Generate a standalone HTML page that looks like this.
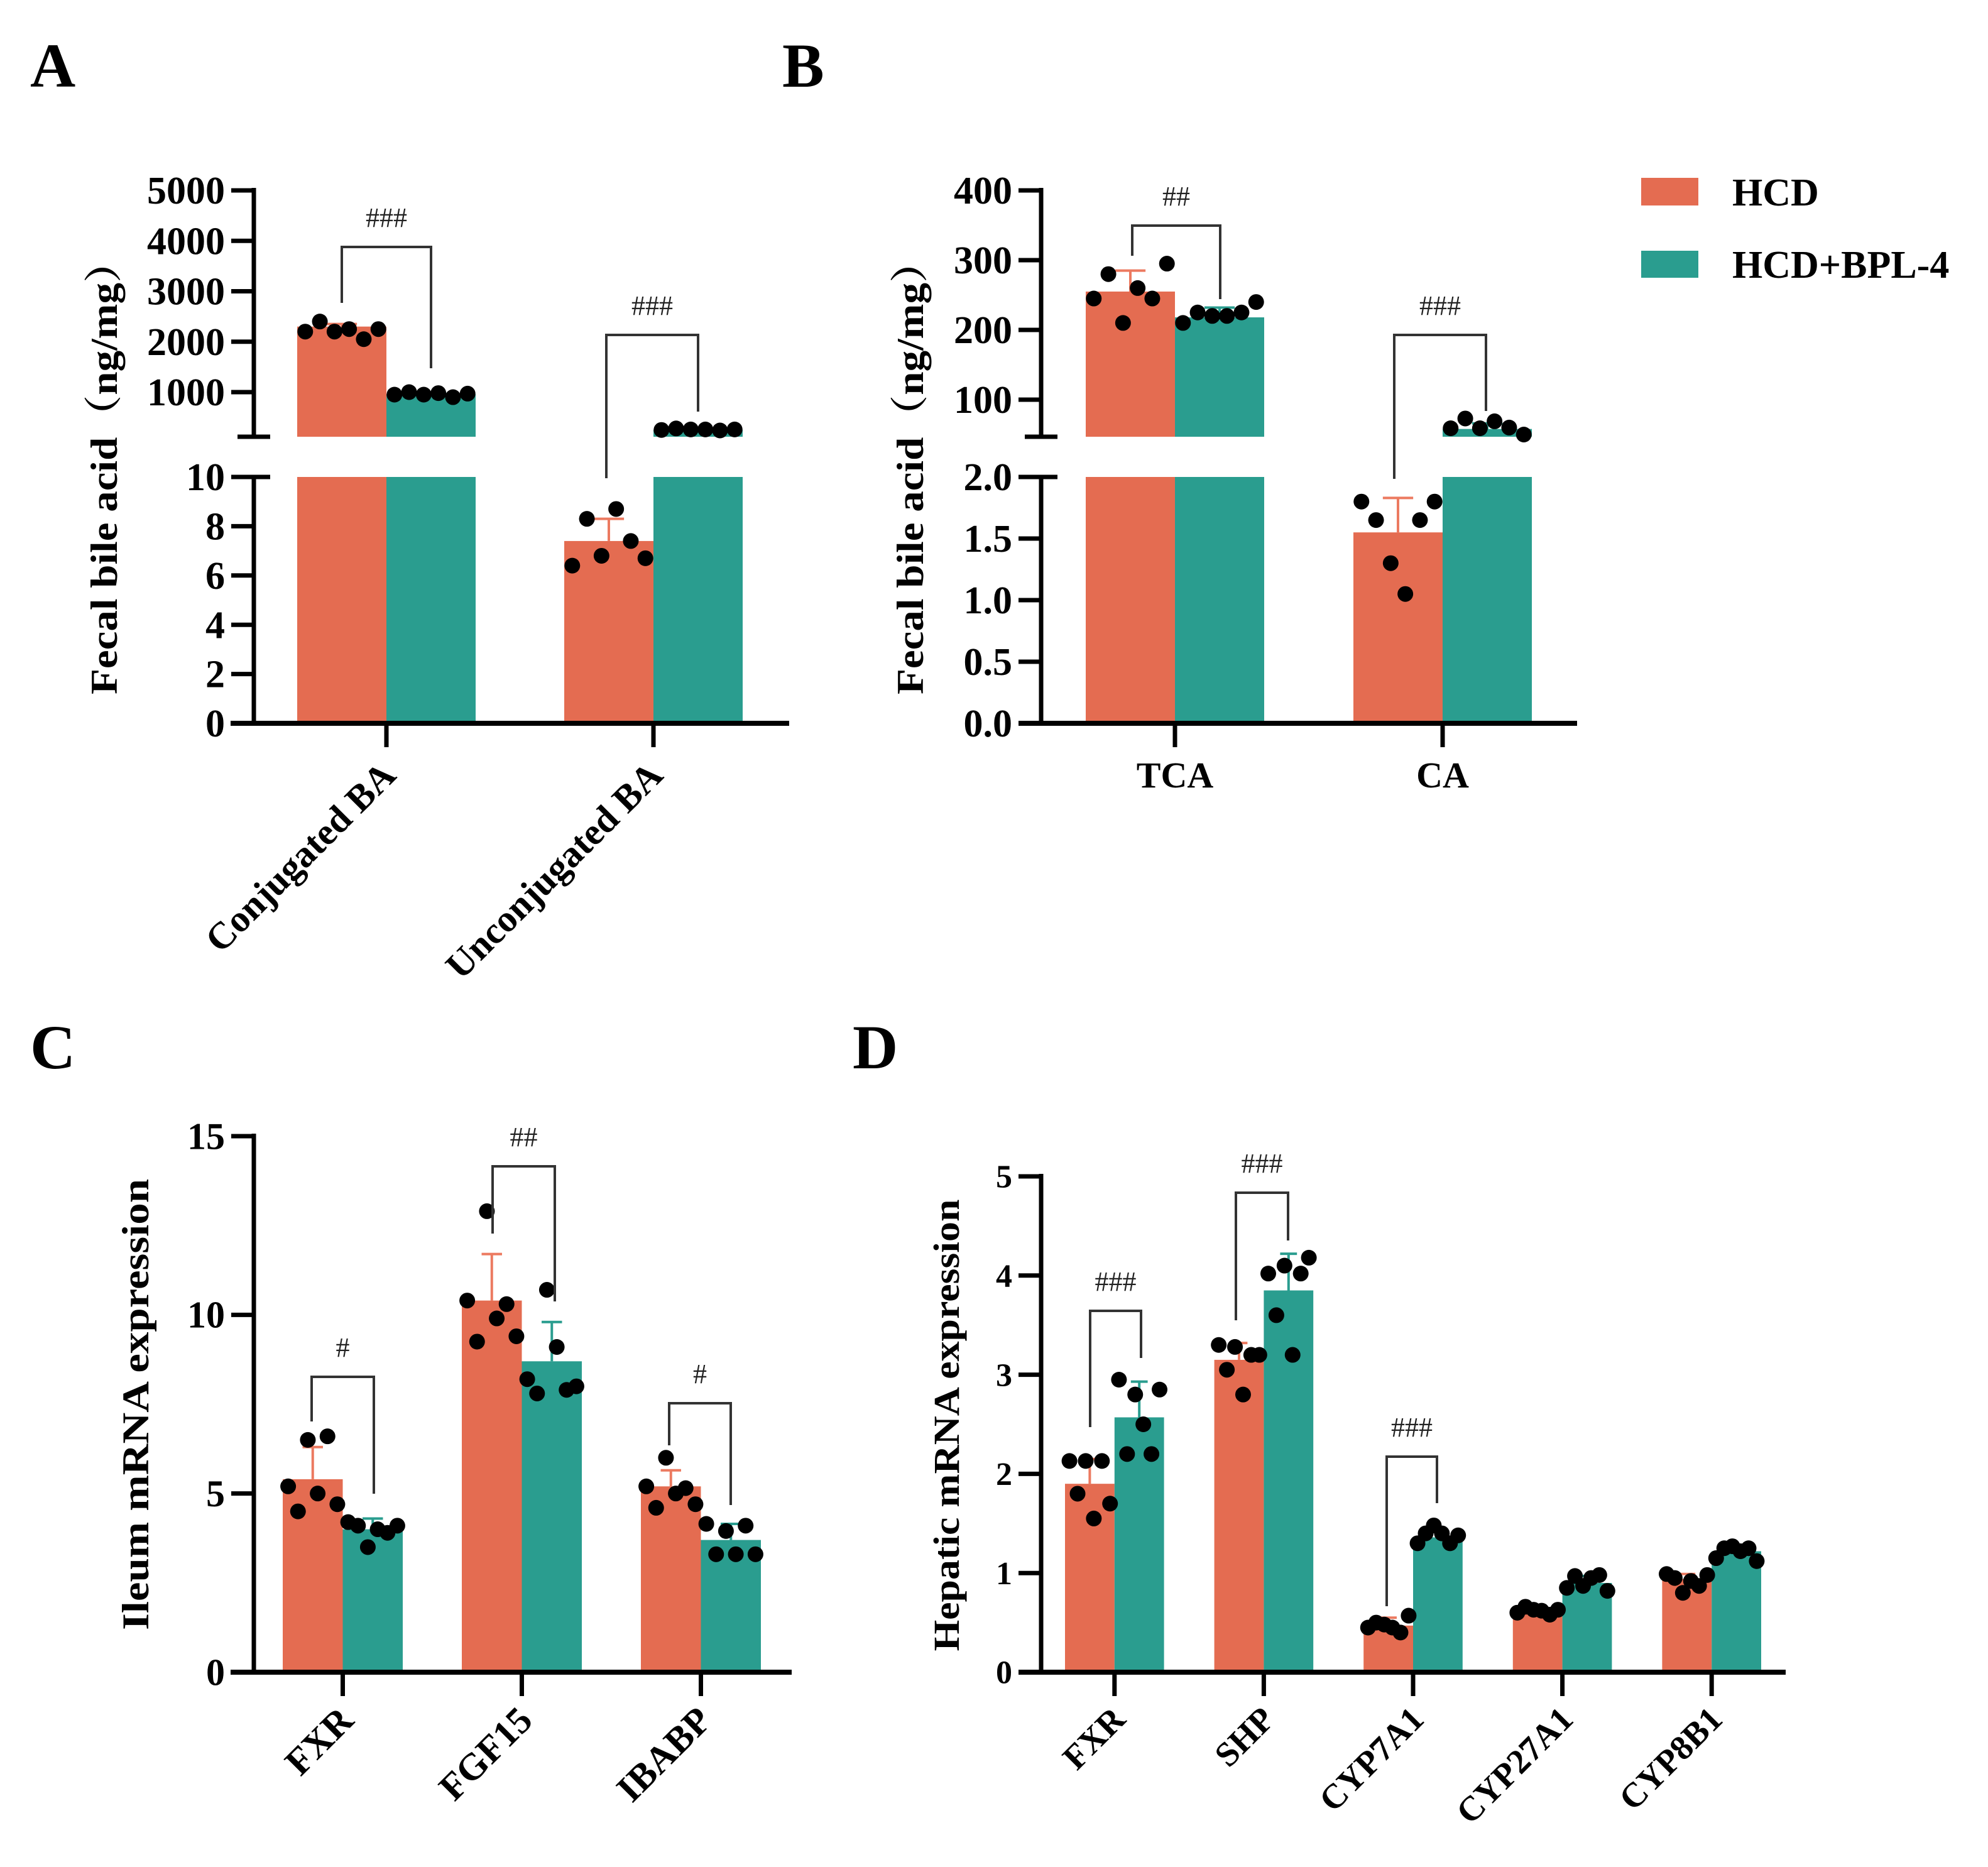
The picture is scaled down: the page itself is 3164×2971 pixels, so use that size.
<!DOCTYPE html>
<html><head><meta charset="utf-8">
<style>
html,body{margin:0;padding:0;background:#fff;}
svg{display:block;}
text{font-family:"Liberation Serif","Noto Serif CJK SC",serif;}
</style></head>
<body>
<svg id="fig" xmlns="http://www.w3.org/2000/svg" width="3164" height="2971" viewBox="0 0 3164 2971"></svg>
<script>
// ---------- Data ----------
const catsA = ["Conjugated BA","Unconjugated BA"];
const hcdA = [2300, 7.4];
const hcdAerr = [2350, 8.3];
const bplA = [960, 255];
const bplAerr = [980, 270];
const hcdAPts = [[2200,2400,2200,2250,2050,2250],[6.4,8.3,6.8,8.7,7.4,6.7]];
const bplAPts = [[950,1000,950,980,900,970],[250,280,260,260,240,260]];

const catsB = ["TCA","CA"];
const hcdB = [255, 1.55];
const hcdBerr = [285, 1.83];
const bplB = [218, 58];
const bplBerr = [232, 66];
const hcdBPts = [[245,280,210,260,245,295],[1.8,1.65,1.3,1.05,1.65,1.8]];
const bplBPts = [[210,225,220,220,225,240],[59,73,59,69,60,50]];

const catsC = ["FXR","FGF15","IBABP"];
const hcdC = [5.4, 10.4, 5.2];
const hcdCerr = [6.3, 11.7, 5.65];
const bplC = [4.0, 8.7, 3.7];
const bplCerr = [4.3, 9.8, 4.15];
const hcdCPts = [[5.2,4.5,6.5,5.0,6.6,4.7],[10.4,9.25,12.9,9.9,10.3,9.4],[5.2,4.6,6.0,5.0,5.15,4.7]];
const bplCPts = [[4.2,4.1,3.5,4.0,3.9,4.1],[8.2,7.8,10.7,9.1,7.9,8.0],[4.15,3.3,3.95,3.3,4.1,3.3]];

const catsD = ["FXR","SHP","CYP7A1","CYP27A1","CYP8B1"];
const hcdD = [1.9, 3.15, 0.47, 0.61, 0.94];
const hcdDerr = [2.15, 3.32, 0.55, 0.66, 0.99];
const bplD = [2.57, 3.85, 1.36, 0.9, 1.22];
const bplDerr = [2.93, 4.22, 1.45, 0.97, 1.27];
const hcdDPts = [[2.13,1.8,2.13,1.55,2.13,1.7],[3.3,3.05,3.28,2.8,3.2,3.2],[0.45,0.5,0.48,0.45,0.4,0.57],[0.6,0.66,0.63,0.62,0.58,0.63],[0.99,0.95,0.8,0.92,0.87,0.98]];
const bplDPts = [[2.95,2.2,2.8,2.5,2.2,2.85],[4.02,3.6,4.1,3.2,4.02,4.18],[1.3,1.4,1.48,1.4,1.3,1.38],[0.85,0.97,0.87,0.95,0.98,0.82],[1.15,1.25,1.27,1.22,1.25,1.12]];

const ticksAUp = [1000,2000,3000,4000,5000];
const ticksALow = [0,2,4,6,8,10];
const ticksBUp = [100,200,300,400];
const ticksBLow = [0,0.5,1.0,1.5,2.0];
const ticksC = [0,5,10,15];
const ticksD = [0,1,2,3,4,5];

const C_HCD = "#E46C51", C_BPL = "#2A9D8F", C_ERRH = "#EC7A60", C_ERRB = "#2A9D8F";
const NS = "http://www.w3.org/2000/svg";
const svg = document.getElementById('fig');
function mk(tag, attrs, parent){
  const e = document.createElementNS(NS, tag);
  for (const k in attrs) e.setAttribute(k, attrs[k]);
  (parent||svg).appendChild(e);
  return e;
}
function txt(s, attrs, parent){ const t = mk('text', attrs, parent); t.textContent = s; return t; }

function brokenY(up, low){
  return {up:v=>up.y0+(v-up.v0)*(up.y1-up.y0)/(up.v1-up.v0), low:v=>low.y0+(v-low.v0)*(low.y1-low.y0)/(low.v1-low.v0), upBottom:up.bottomY, lowTop:low.topY, lowMax:low.vmax};
}
const sA = brokenY({v0:1000,y0:624,v1:5000,y1:303,bottomY:695},{v0:0,y0:1151,v1:10,y1:759,topY:759,vmax:10});
const sB = brokenY({v0:100,y0:636,v1:400,y1:303,bottomY:695},{v0:0,y0:1151,v1:2,y1:759,topY:759,vmax:2});
const yC = v=>2661 - v*(853/15);
const yD = v=>2661 - v*157.8;
function yBroken(s, v){ return v <= s.lowMax ? s.low(v) : s.up(v); }

function group(name){ const g = mk('g',{});   return g; }

function drawBar(g, x, w, v, color, yfn, base, s, name){
  if (s && v > s.lowMax){
    const r1 = mk('rect',{x:x,y:s.lowTop,width:w,height:base-s.lowTop,fill:color},g);
    
    
    const yt = s.up(v);
    const r2 = mk('rect',{x:x,y:yt,width:w,height:s.upBottom-yt,fill:color},g);
    
    
  } else {
    const yt = yfn(v);
    const r = mk('rect',{x:x,y:yt,width:w,height:base-yt,fill:color},g);
    
    
  }
}
function drawErr(g, cx, w, v, e, color, yfn, name){
  const y1 = yfn(v), y2 = yfn(e);
  const l = mk('path',{d:`M${cx},${y1}V${y2}M${cx-w*0.17},${y2}H${cx+w*0.17}`,stroke:color,'stroke-width':4,fill:'none'},g);
  
  
}
function drawPts(g, x, w, pts, yfn, r, name){
  pts.forEach((p,i)=>{
    const cx = x + w*(0.09 + 0.82*i/(pts.length-1));
    const c = mk('circle',{cx:cx,cy:yfn(p),r:r,fill:'#000'},g);
    
    
  });
}
function bracket(g, x1, x2, top, yl, yr, label, fs){
  const p = mk('path',{d:`M${x1},${yl}V${top}H${x2}V${yr}`,stroke:'#333','stroke-width':4,fill:'none'},g);
  
  
  const t = txt(label,{x:(x1+x2)/2,y:top-32,'font-size':fs||44,'text-anchor':'middle',fill:'#222'},g);
  
  
}
function yTicks(g, axX, ticks, yfn, fs, fmt, ext){
  ticks.forEach(v=>{
    const y = yfn(v);
    const l = mk('line',{x1:axX-36,x2:axX+(ext?36:0),y1:y,y2:y,stroke:'#000','stroke-width':7},g);
    
    
    const t = txt(fmt?fmt(v):String(v),{x:axX-46,y:y+fs*0.34,'font-size':fs,'font-weight':'bold','text-anchor':'end'},g);
    
    
  });
}
function xAxis(g, x1, x2, y){
  const l = mk('line',{x1:x1,x2:x2,y1:y,y2:y,stroke:'#000','stroke-width':8},g);
  
  
}
function xTick(g, x, y){
  const l = mk('line',{x1:x,x2:x,y1:y,y2:y+38,stroke:'#000','stroke-width':7},g);
  
  
}
function rotLabel(g, s, x, y, fs){
  const t = txt(s,{x:x,y:y,'font-size':fs,'font-weight':'bold','text-anchor':'end',transform:`rotate(-45 ${x} ${y})`},g);
  
  
}
function yTitle(g, s, x, y, fs, len){
  const t = txt(s,{x:x,y:y,'font-size':fs,'font-weight':'bold','text-anchor':'middle',transform:`rotate(-90 ${x} ${y})`,textLength:len,lengthAdjust:'spacingAndGlyphs'},g);
  
  
}
function panelLetter(s, x, y){
  const t = txt(s,{x:x,y:y,'font-size':100,'font-weight':'bold'});
  
  
}

// ---------- Panel A ----------
(function(){
  const g = group('panel-a-chart');
  const axX = 404, base = 1151;
  const starts = [473, 898], bw = 142;
  catsA.forEach((c,i)=>{
    const x0 = starts[i];
    const f1 = v=>yBroken(sA,v);
    drawBar(g, x0, bw, hcdA[i], C_HCD, f1, base, sA, 'bar-hcd-'+i);
    drawBar(g, x0+bw, bw, bplA[i], C_BPL, f1, base, sA, 'bar-bpl-'+i);
    drawErr(g, x0+bw/2, bw, hcdA[i], hcdAerr[i], C_ERRH, f1, 'error-bar-hcd');
    drawErr(g, x0+bw*1.5, bw, bplA[i], bplAerr[i], C_ERRB, f1, 'error-bar-bpl');
    drawPts(g, x0, bw, hcdAPts[i], f1, 12.5, 'point-hcd');
    drawPts(g, x0+bw, bw, bplAPts[i], f1, 12.5, 'point-bpl');
    xTick(g, x0+bw, base);
    rotLabel(g, c, x0+bw+18, base+86, 60);
  });
  mk('line',{x1:axX,x2:axX,y1:299,y2:695,stroke:'#000','stroke-width':7},g);
  mk('line',{x1:axX,x2:axX,y1:759,y2:base,stroke:'#000','stroke-width':7},g);
  mk('line',{x1:axX-26,x2:axX+26,y1:695,y2:695,stroke:'#000','stroke-width':7},g);
  xAxis(g, 367, 1256, base);
  yTicks(g, axX, ticksAUp, v=>sA.up(v), 62);
  yTicks(g, axX, ticksALow, v=>sA.low(v), 62, null, false);
  mk('line',{x1:axX,x2:axX+26,y1:759,y2:759,stroke:'#000','stroke-width':7},g);
  bracket(g, 544, 686, 393, 482, 586, '###');
  bracket(g, 965, 1111, 533, 761, 655, '###');
  yTitle(g, 'Fecal bile acid（ng/mg）', 186, 744, 60, 722);
})();
panelLetter('A', 48, 138);

// ---------- Panel B ----------
(function(){
  const g = group('panel-b-chart');
  const axX = 1657, base = 1151;
  const starts = [1728, 2154], bw = 142;
  catsB.forEach((c,i)=>{
    const x0 = starts[i];
    const f1 = v=>yBroken(sB,v);
    drawBar(g, x0, bw, hcdB[i], C_HCD, f1, base, sB, 'bar-hcd-'+i);
    drawBar(g, x0+bw, bw, bplB[i], C_BPL, f1, base, sB, 'bar-bpl-'+i);
    drawErr(g, x0+bw/2, bw, hcdB[i], hcdBerr[i], C_ERRH, f1, 'error-bar-hcd');
    drawErr(g, x0+bw*1.5, bw, bplB[i], bplBerr[i], C_ERRB, f1, 'error-bar-bpl');
    drawPts(g, x0, bw, hcdBPts[i], f1, 12.5, 'point-hcd');
    drawPts(g, x0+bw, bw, bplBPts[i], f1, 12.5, 'point-bpl');
    xTick(g, x0+bw, base);
    const t = txt(c,{x:x0+bw,y:1253,'font-size':58,'font-weight':'bold','text-anchor':'middle'},g);
    
    
  });
  mk('line',{x1:axX,x2:axX,y1:299,y2:695,stroke:'#000','stroke-width':7},g);
  mk('line',{x1:axX,x2:axX,y1:759,y2:base,stroke:'#000','stroke-width':7},g);
  mk('line',{x1:axX-26,x2:axX+26,y1:695,y2:695,stroke:'#000','stroke-width':7},g);
  mk('line',{x1:axX,x2:axX+26,y1:759,y2:759,stroke:'#000','stroke-width':7},g);
  xAxis(g, 1621, 2510, base);
  yTicks(g, axX, ticksBUp, v=>sB.up(v), 62);
  yTicks(g, axX, ticksBLow, v=>sB.low(v), 62, v=>v.toFixed(1));
  bracket(g, 1802, 1942, 359, 407, 476, '##');
  bracket(g, 2219, 2365, 533, 762, 654, '###');
  yTitle(g, 'Fecal bile acid（ng/mg）', 1469, 744, 60, 722);
})();
panelLetter('B', 1245, 138);

// Legend
(function(){
  const g = group('legend');
  const r1 = mk('rect',{x:2612,y:283,width:91,height:44,fill:C_HCD},g);
   
  const t1 = txt('HCD',{x:2757,y:327,'font-size':62,'font-weight':'bold'},g);
   
  const r2 = mk('rect',{x:2612,y:399,width:91,height:43,fill:C_BPL},g);
   
  const t2 = txt('HCD+BPL-4',{x:2757,y:442,'font-size':62,'font-weight':'bold'},g);
   
})();

// ---------- Panel C ----------
(function(){
  const g = group('panel-c-chart');
  const axX = 404, base = 2661;
  const starts = [450, 735, 1020], bw = 95.5;
  catsC.forEach((c,i)=>{
    const x0 = starts[i];
    drawBar(g, x0, bw, hcdC[i], C_HCD, yC, base, null, 'bar-hcd-'+c);
    drawBar(g, x0+bw, bw, bplC[i], C_BPL, yC, base, null, 'bar-bpl-'+c);
    drawErr(g, x0+bw/2, bw, hcdC[i], hcdCerr[i], C_ERRH, yC, 'error-bar-hcd');
    drawErr(g, x0+bw*1.5, bw, bplC[i], bplCerr[i], C_ERRB, yC, 'error-bar-bpl');
    drawPts(g, x0, bw, hcdCPts[i], yC, 12.5, 'point-hcd');
    drawPts(g, x0+bw, bw, bplCPts[i], yC, 12.5, 'point-bpl');
    xTick(g, x0+bw, base);
    rotLabel(g, c, x0+bw+20, base+80, 60);
  });
  mk('line',{x1:axX,x2:axX,y1:1804,y2:base,stroke:'#000','stroke-width':7},g);
  xAxis(g, 367, 1260, base);
  yTicks(g, axX, ticksC, yC, 60);
  bracket(g, 496, 595, 2191, 2262, 2377, '#');
  bracket(g, 784, 883, 1856, 1963, 2071, '##');
  bracket(g, 1065, 1163, 2233, 2300, 2395, '#');
  yTitle(g, 'Ileum mRNA expression', 236, 2235, 60, 718);
})();
panelLetter('C', 48, 1700);

// ---------- Panel D ----------
(function(){
  const g = group('panel-d-chart');
  const axX = 1657, base = 2661;
  const bw = 78.8, gap = 237.6, x00 = 1695;
  catsD.forEach((c,i)=>{
    const x0 = x00 + i*gap;
    drawBar(g, x0, bw, hcdD[i], C_HCD, yD, base, null, 'bar-hcd-'+c);
    drawBar(g, x0+bw, bw, bplD[i], C_BPL, yD, base, null, 'bar-bpl-'+c);
    drawErr(g, x0+bw/2, bw, hcdD[i], hcdDerr[i], C_ERRH, yD, 'error-bar-hcd');
    drawErr(g, x0+bw*1.5, bw, bplD[i], bplDerr[i], C_ERRB, yD, 'error-bar-bpl');
    drawPts(g, x0, bw, hcdDPts[i], yD, 12.5, 'point-hcd');
    drawPts(g, x0+bw, bw, bplDPts[i], yD, 12.5, 'point-bpl');
    xTick(g, x0+bw, base);
    rotLabel(g, c, x0+bw+20, base+78, 55);
  });
  mk('line',{x1:axX,x2:axX,y1:1868,y2:base,stroke:'#000','stroke-width':7},g);
  xAxis(g, 1621, 2842, base);
  yTicks(g, axX, ticksD, yD, 52);
  bracket(g, 1735, 1816, 2086, 2271, 2161, '###');
  bracket(g, 1967, 2050, 1898, 2101, 1974, '###');
  bracket(g, 2207, 2287, 2318, 2556, 2392, '###');
  yTitle(g, 'Hepatic mRNA expression', 1526, 2268, 58, 719);
})();
panelLetter('D', 1357, 1700);
</script>
</body></html>
